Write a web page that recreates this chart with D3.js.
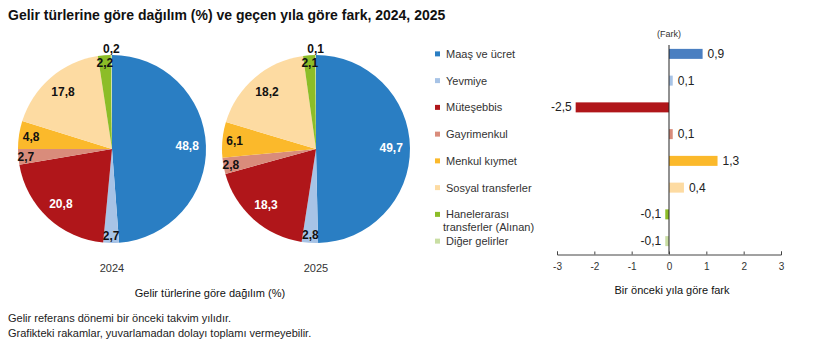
<!DOCTYPE html>
<html>
<head>
<meta charset="utf-8">
<script src="https://cdn.jsdelivr.net/npm/d3@7"></script>
<style>
  body { margin: 0; background: #fff; }
  svg { font-family: "Liberation Sans", Arial, sans-serif; display: block; }
</style>
</head>
<body>
<svg width="820" height="354"></svg>
<script>
// Veri
const categories = ['Maaş ve ücret', 'Yevmiye', 'Müteşebbis', 'Gayrimenkul', 'Menkul kıymet',
    'Sosyal transferler', 'Hanelerarası transferler (Alınan)', 'Diğer gelirler'];
const legendLines = [['Maaş ve ücret'], ['Yevmiye'], ['Müteşebbis'], ['Gayrimenkul'], ['Menkul kıymet'],
    ['Sosyal transferler'], ['Hanelerarası', 'transferler (Alınan)'], ['Diğer gelirler']];
const years = ['2024', '2025'];
const share2024 = [48.8, 2.7, 20.8, 2.7, 4.8, 17.8, 2.2, 0.2];
const share2025 = [49.7, 2.8, 18.3, 2.8, 6.1, 18.2, 2.1, 0.1];
const diff = [0.9, 0.1, -2.5, 0.1, 1.3, 0.4, -0.1, -0.1];
const xTicks = [-3, -2, -1, 0, 1, 2, 3];

const pieColors = ['#2a7ec3', '#a7c3e6', '#b0161a', '#d98c7b', '#fbb92b', '#fddba2', '#8cbd28', '#c9dea3'];
const barColors = ['#4a7fc1', '#a7c3e6', '#b0161a', '#d98c7b', '#fbb92b', '#fddba2', '#8cbd28', '#c9dea3'];
const whiteLabel = [true, false, true, false, false, false, false, false];

const fmt = v => String(v).replace('.', ',');

const svg = d3.select('svg');

// Başlık
svg.append('text')
    .attr('x', 8).attr('y', 20)
    .attr('font-size', 14).attr('font-weight', 'bold').attr('fill', '#111')
    .text('Gelir türlerine göre dağılım (%) ve geçen yıla göre fark, 2024, 2025');

// Pastalar
const radius = 94;
const pie = d3.pie().sort(null).value(d => d);
const arc = d3.arc().innerRadius(0).outerRadius(radius);
const pieCenters = d3.scalePoint().domain(years).range([112, 316]);

[share2024, share2025].forEach((shares, k) => {
    const g = svg.append('g')
        .attr('transform', `translate(${pieCenters(years[k])}, 149)`);
    const arcs = pie(shares);
    g.selectAll('path')
        .data(arcs)
        .enter()
        .append('path')
        .attr('d', arc)
        .attr('fill', (d, i) => pieColors[i]);

    // Etiketler
    g.selectAll('text.lbl')
        .data(arcs)
        .enter()
        .append('text')
        .attr('class', 'lbl')
        .attr('transform', d => {
            const v = d.data;
            const f = v < 1 ? 1.07 : v < 3 ? 0.92 : v < 8 ? 0.87 : 0.8;
            const a = (d.startAngle + d.endAngle) / 2;
            return `translate(${Math.sin(a) * radius * f}, ${-Math.cos(a) * radius * f})`;
        })
        .attr('text-anchor', 'middle')
        .attr('dy', '0.35em')
        .attr('font-size', 12).attr('font-weight', 'bold')
        .attr('fill', (d, i) => whiteLabel[i] ? '#fff' : '#111')
        .text(d => fmt(d.data));

    svg.append('text')
        .attr('x', pieCenters(years[k])).attr('y', 272)
        .attr('text-anchor', 'middle')
        .attr('font-size', 11).attr('fill', '#333')
        .text(years[k]);
});

svg.append('text')
    .attr('x', 210).attr('y', 297)
    .attr('text-anchor', 'middle')
    .attr('font-size', 11).attr('fill', '#111')
    .text('Gelir türlerine göre dağılım (%)');

// Dipnot
svg.append('text')
    .attr('x', 8).attr('y', 322)
    .attr('font-size', 11).attr('fill', '#222')
    .text('Gelir referans dönemi bir önceki takvim yılıdır.');
svg.append('text')
    .attr('x', 8).attr('y', 337)
    .attr('font-size', 11).attr('fill', '#222')
    .text('Grafikteki rakamlar, yuvarlamadan dolayı toplamı vermeyebilir.');

// Satırlar (lejant + çubuk)
const yScale = d3.scaleBand()
    .domain(categories)
    .range([40.5, 254.5])
    .paddingInner(0.6)
    .paddingOuter(0.3);
const rowY = c => yScale(c) + yScale.bandwidth() / 2;

const legend = svg.append('g').attr('id', 'legend');
legend.selectAll('rect')
    .data(categories)
    .enter()
    .append('rect')
    .attr('x', 435)
    .attr('y', d => rowY(d) - 2.5)
    .attr('width', 5).attr('height', 5)
    .attr('fill', (d, i) => pieColors[i]);
legend.selectAll('text')
    .data(categories)
    .enter()
    .append('text')
    .attr('x', 446)
    .attr('y', d => rowY(d) + 4)
    .attr('font-size', 11).attr('fill', '#333')
    .each(function(d, i) {
        const lines = legendLines[i];
        d3.select(this).selectAll('tspan')
            .data(lines)
            .enter()
            .append('tspan')
            .attr('x', (l, j) => j === 0 ? 446 : 443)
            .attr('dy', (l, j) => j === 0 ? 0 : 13)
            .text(l => l);
    });

// Çubuk grafik
const xScale = d3.scaleLinear().domain([-3, 3]).range([557, 781]);

svg.selectAll('rect.bar')
    .data(diff)
    .enter()
    .append('rect')
    .attr('class', 'bar')
    .attr('x', d => xScale(Math.min(0, d)))
    .attr('y', (d, i) => rowY(categories[i]) - 5)
    .attr('width', d => Math.abs(xScale(d) - xScale(0)))
    .attr('height', 10)
    .attr('fill', (d, i) => barColors[i]);

svg.selectAll('text.val')
    .data(diff)
    .enter()
    .append('text')
    .attr('class', 'val')
    .attr('x', d => d >= 0 ? xScale(d) + 5 : xScale(d) - 4)
    .attr('y', (d, i) => rowY(categories[i]) + 4)
    .attr('text-anchor', d => d >= 0 ? 'start' : 'end')
    .attr('font-size', 12).attr('fill', '#222')
    .text(d => fmt(d));

// Sıfır çizgisi
svg.append('line')
    .attr('x1', xScale(0)).attr('x2', xScale(0))
    .attr('y1', 45).attr('y2', 254)
    .attr('stroke', '#222').attr('stroke-width', 1);

const xAxis = d3.axisBottom(xScale)
    .tickValues(xTicks)
    .tickSizeInner(-3)
    .tickSizeOuter(-3)
    .tickPadding(8)
    .tickFormat(d => d);
const xAxisGroup = svg.append('g')
    .attr('transform', 'translate(0, 254.5)')
    .call(xAxis);
xAxisGroup.select('.domain').attr('stroke', '#444');
xAxisGroup.selectAll('.tick line').attr('stroke', '#444');
xAxisGroup.selectAll('.tick text')
    .attr('font-size', 10).attr('fill', '#333')
    .attr('font-family', '"Liberation Sans", Arial, sans-serif');

svg.append('text')
    .attr('x', 669).attr('y', 37)
    .attr('text-anchor', 'middle')
    .attr('font-size', 9).attr('fill', '#333')
    .text('(Fark)');

svg.append('text')
    .attr('x', 672).attr('y', 294)
    .attr('text-anchor', 'middle')
    .attr('font-size', 11).attr('fill', '#111')
    .text('Bir önceki yıla göre fark');
</script>
</body>
</html>
